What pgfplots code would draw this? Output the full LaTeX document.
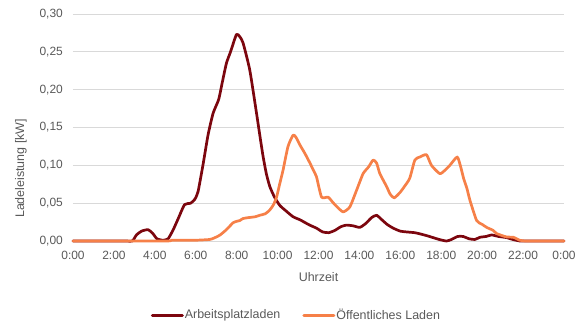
\documentclass[border=0pt]{standalone}
\usepackage{pgfplots}
\pgfplotsset{compat=1.18}
\usepackage{fontspec}
\setmainfont{Liberation Sans}
\definecolor{cA}{RGB}{124,6,14}
\definecolor{cB}{RGB}{246,128,72}
\definecolor{tickgray}{RGB}{89,89,89}
\definecolor{gridgray}{RGB}{217,217,217}
\begin{document}
\begin{tikzpicture}
\path[use as bounding box] (-73bp,-85bp) rectangle (508bp,241bp);
\begin{axis}[
  scale only axis,
  width=491bp, height=227bp,
  xmin=0, xmax=24, ymin=0, ymax=0.3,
  clip=false,
  xtick={0,2,...,24},
  xticklabels={0:00,2:00,4:00,6:00,8:00,10:00,12:00,14:00,16:00,18:00,20:00,22:00,0:00},
  ytick={0,0.05,0.1,0.15,0.2,0.25,0.3},
  yticklabel style={/pgf/number format/fixed, /pgf/number format/fixed zerofill, /pgf/number format/precision=2, /pgf/number format/use comma},
  /pgf/number format/assume math mode=true,
  ymajorgrids,
  grid style={gridgray, line width=0.8bp},
  axis line style={draw=none},
  major tick length=0pt,
  tick label style={font=\fontsize{12}{14}\selectfont, text=tickgray},
  xticklabel style={anchor=base, yshift=-18.5bp, inner sep=0pt},
  yticklabel style={anchor=east, xshift=-10bp, inner sep=0pt},
  every axis x label/.style={at={(axis description cs:0.5,0)}, anchor=base, yshift=-40bp, font=\fontsize{12.5}{14}\selectfont, text=tickgray},
  every axis y label/.style={at={(axis description cs:-0.106,0.32)}, rotate=90, anchor=center, font=\fontsize{12.5}{14}\selectfont, text=tickgray},
  xlabel={Uhrzeit},
  ylabel={Ladeleistung [kW]},
  legend columns=2,
  legend style={draw=none, fill=none, at={(axis description cs:0.454,0)}, anchor=center, yshift=-74bp,
    font=\fontsize{12.5}{14}\selectfont, text=tickgray, inner sep=0pt,
    /tikz/every even column/.append style={column sep=21bp},
    nodes={inner sep=1bp}},
  legend image code/.code={\draw[#1, line width=3bp] (0bp,0bp) -- (30bp,0bp);},
  every axis plot/.append style={line width=2.7bp, smooth, tension=0.35, line join=round, line cap=round},
]
\addplot[cA] coordinates {
(0,0) (2.5,0) (2.9,0) (3.1,0.008) (3.35,0.013) (3.67,0.015) (3.9,0.01) (4.1,0.003) (4.4,0.001)
(4.65,0.003) (4.9,0.015) (5.15,0.03) (5.45,0.048) (5.75,0.05) (5.95,0.055) (6.11,0.065)
(6.35,0.1) (6.6,0.14) (6.85,0.169) (7.12,0.187) (7.3,0.21) (7.5,0.235) (7.7,0.25) (7.99,0.273)
(8.15,0.27) (8.31,0.262) (8.64,0.226) (8.97,0.169) (9.13,0.14) (9.29,0.112) (9.45,0.089)
(9.62,0.072) (9.85,0.058) (10.11,0.047) (10.4,0.04) (10.76,0.032) (11.1,0.028) (11.3,0.025)
(11.57,0.021) (11.9,0.017) (12.2,0.012) (12.5,0.011) (12.8,0.014) (13.1,0.019) (13.37,0.021)
(13.7,0.02) (14.02,0.018) (14.3,0.023) (14.6,0.031) (14.84,0.034) (15.1,0.028) (15.35,0.022)
(15.65,0.017) (16,0.013) (16.3,0.012) (16.7,0.011) (16.95,0.0095) (17.3,0.007) (17.6,0.0045)
(17.9,0.002) (18.26,0) (18.5,0.002) (18.8,0.006) (19.07,0.006) (19.35,0.003) (19.64,0.002)
(19.9,0.005) (20.2,0.006) (20.46,0.008) (20.8,0.006) (21.19,0.0045) (21.5,0.002) (21.84,0)
(22,0) (24,0)
};
\addlegendentry{Arbeitsplatzladen}
\addplot[cB] coordinates {
(0,0) (4.5,0) (4.8,0.001) (5.5,0.001) (6.0,0.001) (6.68,0.002) (6.9,0.004) (7.17,0.0076)
(7.5,0.015) (7.82,0.024) (8.0,0.026) (8.15,0.027) (8.31,0.0297) (8.6,0.031) (8.9,0.032)
(9.13,0.034) (9.4,0.036) (9.62,0.041) (9.8,0.048) (9.95,0.058) (10.1,0.075) (10.27,0.094)
(10.51,0.125) (10.76,0.140) (10.9,0.137) (11.09,0.127) (11.33,0.116) (11.6,0.102) (11.74,0.094)
(11.9,0.085) (12.15,0.058) (12.47,0.058) (12.7,0.051) (12.88,0.046) (13.2,0.0385) (13.53,0.045)
(13.86,0.067) (14.18,0.089) (14.45,0.098) (14.67,0.107) (14.84,0.103) (15.0,0.089) (15.33,0.072)
(15.5,0.062) (15.7,0.057) (15.98,0.064) (16.2,0.072) (16.46,0.083) (16.71,0.107) (16.95,0.111)
(17.28,0.114) (17.52,0.100) (17.93,0.089) (18.2,0.094) (18.42,0.100) (18.78,0.111) (18.95,0.098)
(19.1,0.082) (19.25,0.07) (19.4,0.054) (19.73,0.027) (20.0,0.022) (20.22,0.018) (20.54,0.014)
(20.71,0.0098) (21.2,0.0053) (21.52,0.0050) (21.84,0.001) (22.2,0) (24,0)
};
\addlegendentry{Öffentliches Laden}
\end{axis}
\end{tikzpicture}
\end{document}
